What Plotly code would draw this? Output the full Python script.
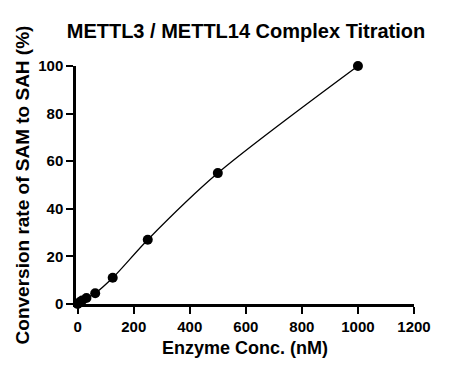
import plotly.graph_objects as go

enzyme_nM = [0, 7.8, 15.6, 31.25, 62.5, 125, 250, 500, 1000]
conversion_pct = [0, 0.8, 1.5, 2.5, 4.5, 11, 27, 55, 100]
x_ticks = [0, 200, 400, 600, 800, 1000, 1200]
y_ticks = [0, 20, 40, 60, 80, 100]

# page body has an 8px default margin, so the figure is sized/offset to compensate
W, H = 459, 370

fig = go.Figure()
fig.add_trace(go.Scatter(x=enzyme_nM, y=conversion_pct, mode="lines",
                         line=dict(color="black", width=1.3, shape="spline", smoothing=0.8),
                         hoverinfo="skip", showlegend=False, cliponaxis=False))
fig.add_trace(go.Scatter(x=enzyme_nM, y=conversion_pct, mode="markers",
                         marker=dict(color="black", size=10), showlegend=False,
                         cliponaxis=False))

font = "Liberation Sans, Arial, sans-serif"
fig.update_layout(
    width=W, height=H,
    margin=dict(l=68, r=53, t=58, b=74),
    plot_bgcolor="white", paper_bgcolor="white",
    title=dict(text="<b>METTL3 / METTL14 Complex Titration</b>", x=238 / W, xanchor="center",
               y=1 - 23 / H, yanchor="middle", xref="container", yref="container",
               font=dict(family=font, size=20, color="black")),
    font=dict(family=font, color="black"),
)
fig.update_xaxes(range=[-6, 1200], tickvals=x_ticks, ticktext=[f"<b>{v}</b>" for v in x_ticks],
                 showgrid=False, zeroline=False, showline=True, linecolor="black", linewidth=2.5,
                 ticks="outside", ticklen=7, tickwidth=2, tickcolor="black", automargin=False,
                 tickfont=dict(family=font, size=15, color="black"),
                 title=dict(text="<b>Enzyme Conc. (nM)</b>", standoff=8,
                            font=dict(family=font, size=18, color="black")))
fig.update_yaxes(range=[0, 100], tickvals=y_ticks, ticktext=[f"<b>{v}</b>" for v in y_ticks],
                 showgrid=False, zeroline=False, showline=True, linecolor="black", linewidth=2.5,
                 ticks="outside", ticklen=7, tickwidth=2, tickcolor="black", automargin=False,
                 tickfont=dict(family=font, size=15, color="black"),
                 title=dict(text="<b>Conversion rate of SAM to SAH (%)</b>", standoff=4,
                            font=dict(family=font, size=19, color="black")))
fig.write_html("out.html")
